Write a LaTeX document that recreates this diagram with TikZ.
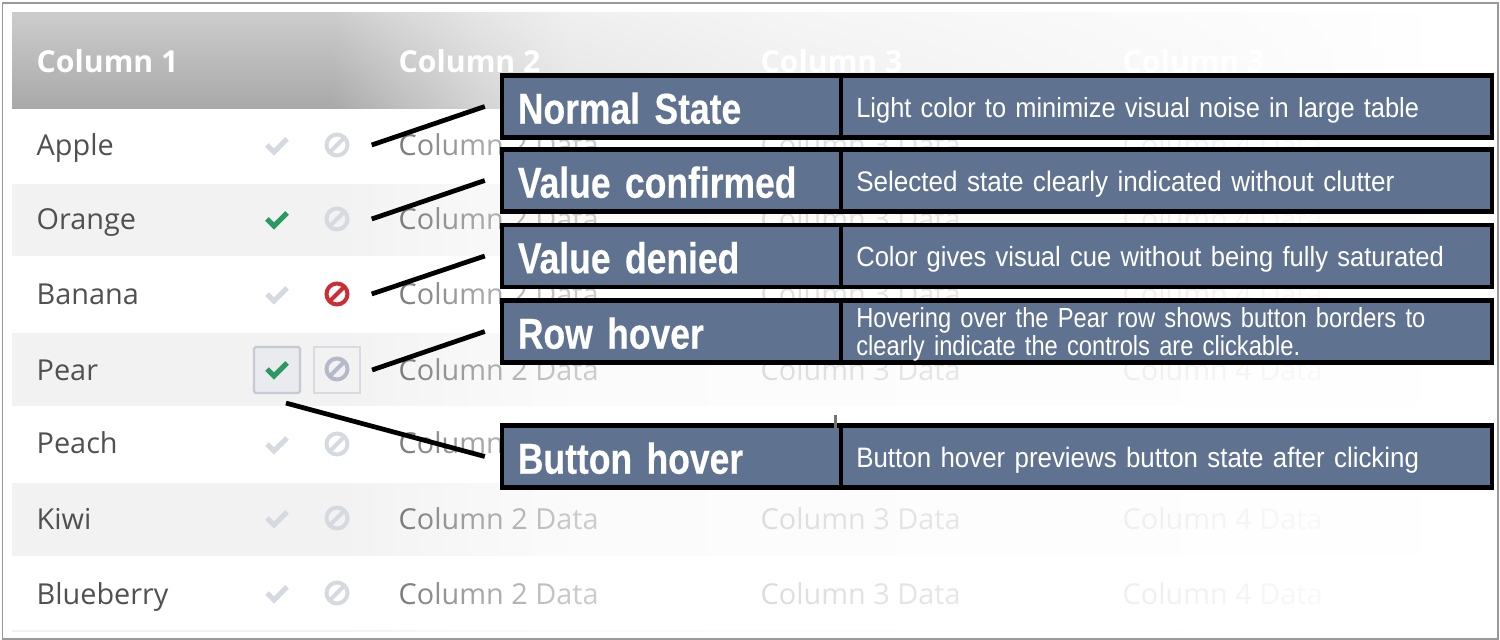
\documentclass[tikz,border=0pt]{standalone}
\usepackage{fontspec}
\usepackage{xcolor}
\usetikzlibrary{fadings}
\setmainfont{Open Sans}
\newfontfamily\titlefont[FakeStretch=0.82,WordSpace=0.4,FakeBold=0.3]{Liberation Sans}
\newfontfamily\notefont[FakeStretch=0.92]{Liberation Sans}
\newfontfamily\tightnotefont[FakeStretch=0.86]{Liberation Sans}
\definecolor{calloutblue}{HTML}{5F7391}
\definecolor{rowgrey}{HTML}{F2F2F2}
\definecolor{cellgrey}{HTML}{505050}
\definecolor{iconoff}{HTML}{D5D9E0}
\definecolor{iconhover}{HTML}{B5BAC8}
\definecolor{icongreen}{HTML}{2A9A60}
\definecolor{iconred}{HTML}{CC2E33}
\definecolor{btnedge}{HTML}{C4CAD4}
\definecolor{btnfill}{HTML}{E9EBEF}
\definecolor{btnedgelight}{HTML}{D8DBE0}
\pgfdeclarehorizontalshading{tablefadeshade}{100bp}{
  color(0bp)=(black); color(35.76bp)=(black); color(38.12bp)=(white!25!black);
  color(40.83bp)=(white!50!black); color(43.88bp)=(white!70!black);
  color(51.66bp)=(white!82!black); color(65.19bp)=(white!93!black);
  color(72.63bp)=(white); color(100bp)=(white)}
\pgfdeclarefading{tablefade}{\pgfuseshading{tablefadeshade}}
\tikzset{
  headtext/.style={anchor=base west, inner sep=0pt, text=white, font=\fontsize{8.6}{10}\selectfont\bfseries},
  celltext/.style={anchor=base west, inner sep=0pt, text=cellgrey, font=\fontsize{8.2}{10}\selectfont},
  tickicon/.style={minimum size=0.26cm, inner sep=0pt, path picture={
    \draw[#1, line width=1.42pt] (-10,0) -- (-3,7) -- (10,-6);}},
  banicon/.style={minimum size=0.26cm, inner sep=0pt, path picture={
    \draw[#1, line width=1.14pt] (0,0) circle (10.5);
    \draw[#1, line width=1.14pt] (-7,7) -- (7,-7);}},
  titlebox/.style={draw=black, line width=1.2pt, fill=calloutblue, minimum width=3.40cm, minimum height=0.62cm,
    inner xsep=0.16cm, inner ysep=0pt, text width=3.08cm, text height=10.8pt, text depth=1pt, align=left, text=white,
    font=\titlefont\fontsize{12.3}{14}\selectfont\bfseries},
  notebox/.style={draw=black, line width=1.2pt, fill=calloutblue, minimum width=6.51cm, minimum height=0.62cm,
    inner xsep=0.155cm, inner ysep=0pt, text width=6.2cm, text height=7pt, text depth=1pt, align=left, text=white,
    font=\notefont\fontsize{7.86}{8}\selectfont},
  leader/.style={draw=black, line width=1.35pt}
}

\begin{document}
\begin{tikzpicture}[x=0.01cm, y=-0.01cm]
\useasboundingbox (0,0) rectangle (1500,640);
\fill[white] (0,0) rectangle (1500,640);
\draw[black!40, line width=0.3pt] (2.5,3) rectangle (1498,639);

% table
\shade[top color=black!20, bottom color=black!34] (12,13) rectangle (1490,109);
\fill[rowgrey] (12,184) rectangle (1490,256);
\fill[rowgrey] (12,333) rectangle (1490,406);
\fill[rowgrey] (12,483) rectangle (1490,556);
\draw[rowgrey, line width=0.3pt] (12,631) -- (1490,631);

\node[headtext] (headA) at (36,73) {Column 1};
\node[headtext] (headB) at (398,73) {Column 2};
\node[headtext] (headC) at (760,73) {Column 3};
\node[headtext] (headD) at (1122,73) {Column 3};

\node[celltext] (apple) at (36,156) {Apple};
\node[celltext] (appleB) at (398,156) {Column 2 Data};
\node[celltext] (appleC) at (760,156) {Column 3 Data};
\node[celltext] (appleD) at (1122,156) {Column 4 Data};

\node[celltext] (orange) at (36,230) {Orange};
\node[celltext] (orangeB) at (398,230) {Column 2 Data};
\node[celltext] (orangeC) at (760,230) {Column 3 Data};
\node[celltext] (orangeD) at (1122,230) {Column 4 Data};

\node[celltext] (banana) at (36,305) {Banana};
\node[celltext] (bananaB) at (398,305) {Column 2 Data};
\node[celltext] (bananaC) at (760,305) {Column 3 Data};
\node[celltext] (bananaD) at (1122,305) {Column 4 Data};

\node[celltext] (pear) at (36,380) {Pear};
\node[celltext] (pearB) at (398,380) {Column 2 Data};
\node[celltext] (pearC) at (760,380) {Column 3 Data};
\node[celltext] (pearD) at (1122,380) {Column 4 Data};

\node[celltext] (peach) at (36,454) {Peach};
\node[celltext] (peachB) at (398,454) {Column 2 Data};
\node[celltext] (peachC) at (760,454) {Column 3 Data};
\node[celltext] (peachD) at (1122,454) {Column 4 Data};

\node[celltext] (kiwi) at (36,529) {Kiwi};
\node[celltext] (kiwiB) at (398,529) {Column 2 Data};
\node[celltext] (kiwiC) at (760,529) {Column 3 Data};
\node[celltext] (kiwiD) at (1122,529) {Column 4 Data};

\node[celltext] (blueberry) at (36,604) {Blueberry};
\node[celltext] (blueberryB) at (398,604) {Column 2 Data};
\node[celltext] (blueberryC) at (760,604) {Column 3 Data};
\node[celltext] (blueberryD) at (1122,604) {Column 4 Data};

% fade to the right
\fill[white, path fading=tablefade] (12,10) rectangle (1494,634);

% buttons on the pear row
\node[draw=btnedge, line width=0.6pt, fill=btnfill, rounded corners=0.5pt, minimum size=0.46cm, inner sep=0pt] (pearTickBtn) at (277,370) {};
\node[draw=btnedgelight, line width=0.6pt, fill=rowgrey, minimum size=0.46cm, inner sep=0pt] (pearBanBtn) at (337,370) {};

% icons
\node[tickicon=iconoff] (appleTick) at (277,145) {};
\node[banicon=iconoff] (appleBan) at (337,145) {};
\node[tickicon=icongreen] (orangeTick) at (277,219) {};
\node[banicon=iconoff] (orangeBan) at (337,219) {};
\node[tickicon=iconoff] (bananaTick) at (277,294) {};
\node[banicon=iconred] (bananaBan) at (337,294) {};
\node[tickicon=icongreen] (pearTick) at (277,369) {};
\node[banicon=iconhover] (pearBan) at (337,369) {};
\node[tickicon=iconoff] (peachTick) at (277,444) {};
\node[banicon=iconoff] (peachBan) at (337,444) {};
\node[tickicon=iconoff] (kiwiTick) at (277,518) {};
\node[banicon=iconoff] (kiwiBan) at (337,518) {};
\node[tickicon=iconoff] (blueberryTick) at (277,593) {};
\node[banicon=iconoff] (blueberryBan) at (337,593) {};

% callouts
\node[titlebox] (normalTitle) at (672,106.5) {Normal State};
\node[notebox] (normalNote) at (1166.5,106.5) {Light color to minimize visual noise in large table};
\node[titlebox] (confirmedTitle) at (672,180.5) {Value confirmed};
\node[notebox, font=\notefont\fontsize{8.05}{8}\selectfont] (confirmedNote) at (1166.5,180.5) {Selected state clearly indicated without clutter};
\node[titlebox] (deniedTitle) at (672,256) {Value denied};
\node[notebox, font=\notefont\fontsize{7.9}{8}\selectfont] (deniedNote) at (1166.5,256) {Color gives visual cue without being fully saturated};
\node[titlebox] (rowTitle) at (672,331.5) {Row hover};
\node[notebox, text height=7pt, text depth=9.4pt, font=\tightnotefont\fontsize{7.84}{8}\selectfont] (rowNote) at (1166.5,331.5) {Hovering over the Pear row shows button borders to\\clearly indicate the controls are clickable.};
\node[titlebox] (buttonTitle) at (672,456.5) {Button hover};
\node[notebox, font=\notefont\fontsize{8}{8}\selectfont] (buttonNote) at (1166.5,456.5) {Button hover previews button state after clicking};
\node[fill=black!55, minimum width=0.03cm, minimum height=0.13cm, inner sep=0pt] (cursorMark) at (835,422) {};

% leaders
\draw[leader] ([xshift=0.21cm]appleBan.east) -- ([xshift=-0.15cm]normalTitle.west);
\draw[leader] ([xshift=0.21cm]orangeBan.east) -- ([xshift=-0.15cm]confirmedTitle.west);
\draw[leader] ([xshift=0.21cm]bananaBan.east) -- ([xshift=-0.15cm]deniedTitle.west);
\draw[leader] ([xshift=0.11cm]pearBanBtn.east) -- ([xshift=-0.15cm]rowTitle.west);
\draw[leader] ([xshift=0.09cm,yshift=-0.09cm]pearTickBtn.south) -- ([xshift=-0.15cm]buttonTitle.west);

\end{tikzpicture}
\end{document}
